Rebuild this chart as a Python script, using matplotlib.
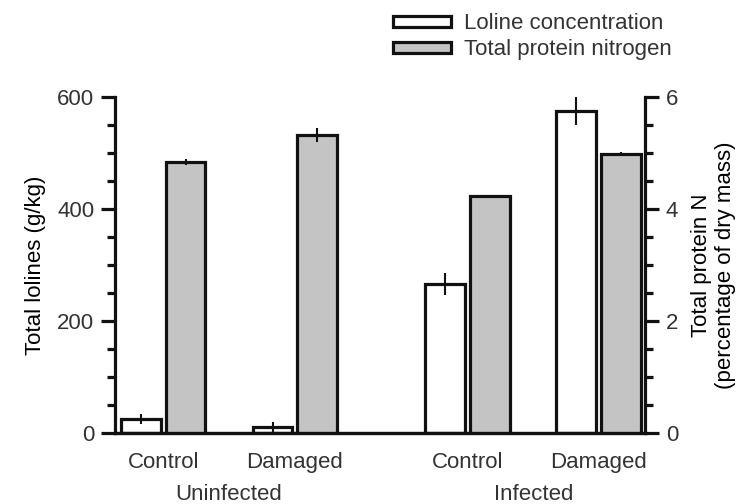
import matplotlib
matplotlib.use('Agg')
import matplotlib.pyplot as plt
from matplotlib.patches import Patch
from matplotlib.ticker import MultipleLocator

plt.rcParams['font.family'] = ['Liberation Sans', 'DejaVu Sans']
plt.rcParams['font.size'] = 16
plt.rcParams['text.color'] = '#333333'
plt.rcParams['xtick.color'] = '#111111'
plt.rcParams['ytick.color'] = '#111111'
plt.rcParams['xtick.labelcolor'] = '#333333'
plt.rcParams['ytick.labelcolor'] = '#333333'

treatments = ['Control', 'Damaged', 'Control', 'Damaged']
infection = ['Uninfected', 'Infected']
loline = [25, 11, 266, 575]
loline_err = [9, 9, 20, 25]
protein_n = [4.84, 5.32, 4.23, 4.98]
protein_err = [0.05, 0.12, 0.0, 0.03]

gray = '#c4c4c4'
edge = '#111111'
lw = 2.3
width = 0.3
offset = 0.169
xs = [0, 0.995, 2.3, 3.29]

fig = plt.figure(figsize=(7.44, 5.04), dpi=100)
ax = fig.add_axes([0.1546, 0.1409, 0.7124, 0.6666])
ax2 = ax.twinx()

ax.bar([x - offset for x in xs], loline, width, color='white',
       edgecolor=edge, linewidth=lw, zorder=2)
ax.errorbar([x - offset for x in xs], loline, yerr=loline_err, fmt='none',
            ecolor=edge, elinewidth=1.5, capsize=0, zorder=3)
ax2.bar([x + offset for x in xs], protein_n, width, color=gray,
        edgecolor=edge, linewidth=lw, zorder=2)
ax2.errorbar([x + offset for x in xs], protein_n, yerr=protein_err,
             fmt='none', ecolor=edge, elinewidth=1.5, capsize=0, zorder=3)

ax.set_xlim(-0.364, 3.64)
ax.set_ylim(0, 600)
ax2.set_ylim(0, 6)
ax.set_yticks([0, 200, 400, 600])
ax.yaxis.set_minor_locator(MultipleLocator(50))
ax2.set_yticks([0, 2, 4, 6])
ax2.yaxis.set_minor_locator(MultipleLocator(0.5))

for a in (ax, ax2):
    a.spines['top'].set_visible(False)
    for s in a.spines.values():
        s.set_linewidth(lw)
        s.set_color(edge)
    a.tick_params(axis='y', which='major', direction='out', length=10,
                  width=lw, pad=5)
    a.tick_params(axis='y', which='minor', direction='out', length=6,
                  width=lw)
ax2.spines['left'].set_visible(False)
ax.spines['right'].set_visible(False)

ax.set_xticks(xs)
ax.set_xticklabels(treatments)
ax.tick_params(axis='x', length=0, pad=14)

ax.text((xs[0] + xs[1]) / 2, -0.183, infection[0], ha='center', va='center',
        transform=ax.get_xaxis_transform())
ax.text((xs[2] + xs[3]) / 2, -0.183, infection[1], ha='center', va='center',
        transform=ax.get_xaxis_transform())

ax.set_ylabel('Total lolines (g/kg)', labelpad=8)
ax2.set_ylabel('Total protein N\n(percentage of dry mass)', labelpad=9,
               linespacing=1.2)

handles = [Patch(facecolor='white', edgecolor=edge, linewidth=lw),
           Patch(facecolor=gray, edgecolor=edge, linewidth=lw)]
fig.legend(handles, ['Loline concentration', 'Total protein nitrogen'],
           loc='upper left', bbox_to_anchor=(0.51, 1.0), frameon=False,
           handlelength=2.6, handleheight=0.4, labelspacing=0.22,
           handletextpad=0.6, borderaxespad=0.2)

fig.savefig('out.png', dpi=100)
